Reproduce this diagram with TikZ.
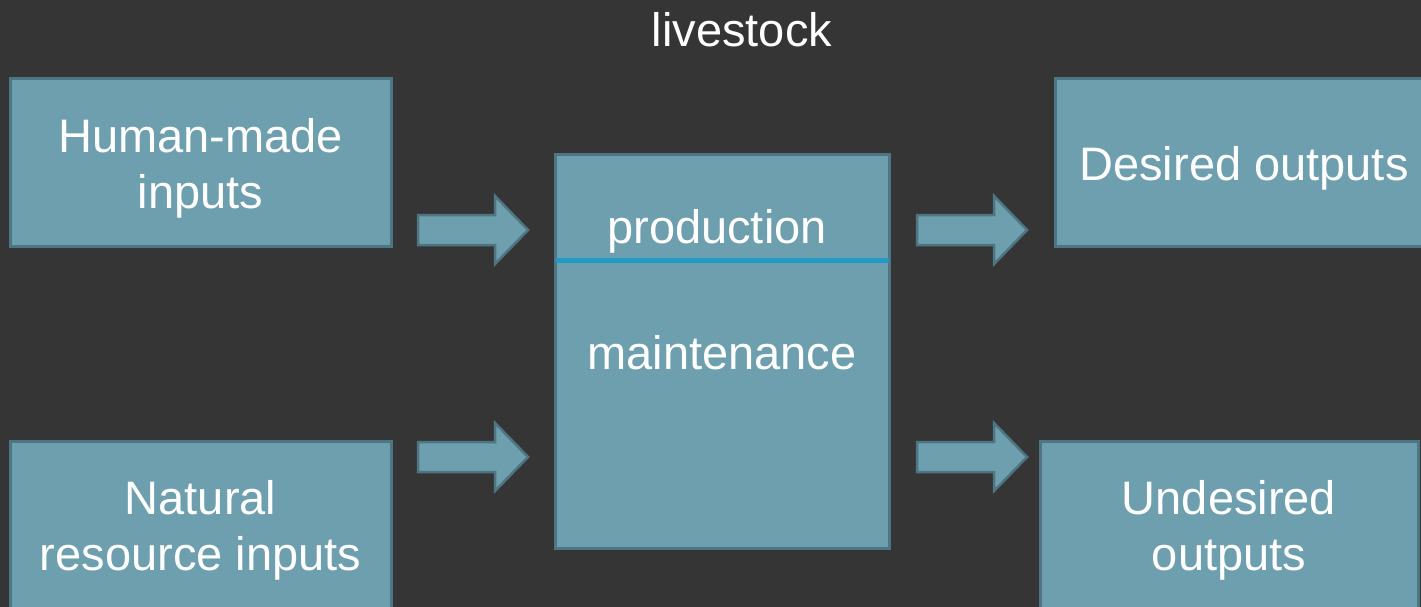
\documentclass[tikz,border=0pt]{standalone}
\usepackage{fontspec}
\setmainfont{Liberation Sans}
\definecolor{bgdark}{HTML}{353535}
\definecolor{boxfill}{HTML}{6E9FAF}
\definecolor{boxedge}{HTML}{4E7584}
\definecolor{divblue}{HTML}{2299C6}
\newcommand\bigtext{\fontsize{47}{56}\selectfont}
\newcommand\flowarrow[1]{%
  \draw[arrowshape,shift={(#1)}] (0,15) -- (77,15) -- (77,34) -- (110,0)
    -- (77,-34) -- (77,-15) -- (0,-15) -- cycle;}
\begin{document}
\begin{tikzpicture}[x=1pt,y=1pt,
  box/.style={draw=boxedge, fill=boxfill, line width=3pt, inner sep=0pt},
  label/.style={text=white, inner sep=0pt, align=center, font=\bigtext},
  arrowshape/.style={draw=boxedge, fill=boxfill, line width=2.5pt, line join=miter},
  divider/.style={draw=divblue, line width=5pt}]
\useasboundingbox (0,0) rectangle (1421,-607);
\fill[bgdark] (0,0) rectangle (1421,-607);
\clip (0,0) rectangle (1421,-607);

% title
\node[label] (title) at (742,-30) {livestock};

% input boxes
\node[box, minimum width=381, minimum height=167] (human) at (200.5,-162.5) {};
\node[label] (humantxt) at ([yshift=-6pt]human.center) {Human-made\\inputs};
\node[box, minimum width=381, minimum height=171] (natural) at (200.5,-526.5) {};
\node[label] (naturaltxt) at ([yshift=-4pt]natural.center) {Natural\\resource inputs};

% central process box
\node[box, minimum width=334, minimum height=394] (proc) at (722,-351) {};
\draw[divider] ([xshift=2pt]proc.west |- 0,-260) -- ([xshift=-2pt]proc.east |- 0,-260);
\node[label] (prod) at (717,-231) {production};
\node[label] (maint) at (722,-353) {maintenance};

% output boxes
\node[box, minimum width=378, minimum height=167] (desired) at (1244,-162.5) {};
\node[label] (desiredtxt) at ([yshift=-6pt]desired.center) {Desired outputs};
\node[box, minimum width=378, minimum height=171] (undesired) at (1229,-526.5) {};
\node[label] (undesiredtxt) at ([yshift=-4pt]undesired.center) {Undesired\\outputs};

% block arrows between the columns
\coordinate (a1) at (418,-230);
\coordinate (a2) at (418,-457);
\coordinate (a3) at (917,-230);
\coordinate (a4) at (917,-457);
\flowarrow{a1}
\flowarrow{a2}
\flowarrow{a3}
\flowarrow{a4}
\end{tikzpicture}
\end{document}
